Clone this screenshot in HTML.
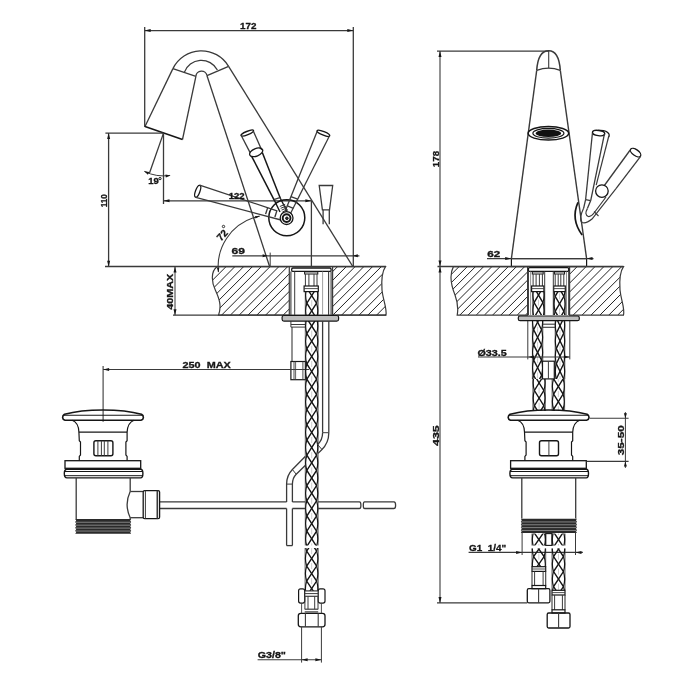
<!DOCTYPE html>
<html><head><meta charset="utf-8"><style>
html,body{margin:0;padding:0;background:#fff;width:700px;height:700px;overflow:hidden}
svg{display:block;will-change:transform}
text{font-family:"Liberation Sans",sans-serif;font-weight:bold;fill:#161616;white-space:pre}
</style></head><body>
<svg width="700" height="700" viewBox="0 0 700 700">
<rect width="700" height="700" fill="#fff"/>
<line x1="144.70" y1="27.00" x2="144.70" y2="127.00" stroke="#3a3a3a" stroke-width="1.3"/>
<line x1="353.30" y1="27.00" x2="353.30" y2="266.50" stroke="#3a3a3a" stroke-width="1.3"/>
<line x1="144.70" y1="30.60" x2="353.30" y2="30.60" stroke="#3a3a3a" stroke-width="1.3"/>
<path d="M144.70,30.60 L150.70,29.10 L150.70,32.10 Z" fill="#161616"/>
<path d="M353.30,30.60 L347.30,32.10 L347.30,29.10 Z" fill="#161616"/>
<text x="240.05" y="28.80" font-size="9.14" textLength="16.41" lengthAdjust="spacingAndGlyphs" stroke="#161616" stroke-width="0.3">172</text>
<path d="M172.9,68.6 A31.6,31.6 0 0 1 228.6,66.4" fill="none" stroke="#3a3a3a" stroke-width="1.3" />
<path d="M184.3,72.4 A18.1,18.1 0 0 1 217.4,70" fill="none" stroke="#3a3a3a" stroke-width="1.3" />
<path d="M195.9,76.4 A5.6,5.6 0 0 1 207,75.7" fill="none" stroke="#3a3a3a" stroke-width="1.3" />
<line x1="172.90" y1="68.60" x2="195.90" y2="76.40" stroke="#3a3a3a" stroke-width="1.3"/>
<line x1="207.00" y1="75.70" x2="228.60" y2="66.40" stroke="#3a3a3a" stroke-width="1.3"/>
<line x1="172.90" y1="68.60" x2="145.00" y2="126.50" stroke="#3a3a3a" stroke-width="1.3"/>
<line x1="195.90" y1="76.40" x2="182.50" y2="139.50" stroke="#3a3a3a" stroke-width="1.3"/>
<line x1="145.00" y1="126.50" x2="182.50" y2="139.50" stroke="#161616" stroke-width="1.5"/>
<line x1="207.00" y1="75.70" x2="269.60" y2="266.50" stroke="#3a3a3a" stroke-width="1.3"/>
<line x1="228.60" y1="66.40" x2="352.80" y2="266.50" stroke="#3a3a3a" stroke-width="1.3"/>
<line x1="105.40" y1="133.10" x2="163.50" y2="133.10" stroke="#3a3a3a" stroke-width="1.3"/>
<line x1="108.60" y1="133.10" x2="108.60" y2="266.70" stroke="#3a3a3a" stroke-width="1.3"/>
<path d="M108.60,133.10 L110.10,139.10 L107.10,139.10 Z" fill="#161616"/>
<path d="M108.60,266.70 L107.10,260.70 L110.10,260.70 Z" fill="#161616"/>
<text transform="translate(107.40 207.25) rotate(-90)" x="0" y="0" font-size="9.14" textLength="13.01" lengthAdjust="spacingAndGlyphs" stroke="#161616" stroke-width="0.3">110</text>
<line x1="163.50" y1="133.10" x2="163.50" y2="204.00" stroke="#3a3a3a" stroke-width="1.3"/>
<line x1="163.50" y1="133.10" x2="149.50" y2="173.00" stroke="#3a3a3a" stroke-width="1.3"/>
<path d="M144.40,171.40 A42.8,42.8 0 0 0 169.83,175.43" fill="none" stroke="#3a3a3a" stroke-width="1.0" />
<path d="M144.10,171.20 L149.29,172.01 L147.86,174.87 Z" fill="#161616"/>
<path d="M170.63,175.43 L165.85,177.61 L165.47,174.44 Z" fill="#161616"/>
<text x="148.17" y="183.50" font-size="8.86" textLength="10.57" lengthAdjust="spacingAndGlyphs" stroke="#161616" stroke-width="0.3">19</text>
<circle cx="160.0" cy="178.6" r="1.15" fill="none" stroke="#161616" stroke-width="1.0"/>
<line x1="163.50" y1="200.80" x2="311.40" y2="200.80" stroke="#3a3a3a" stroke-width="1.3"/>
<path d="M163.50,200.80 L169.50,199.30 L169.50,202.30 Z" fill="#161616"/>
<path d="M311.40,200.80 L305.40,202.30 L305.40,199.30 Z" fill="#161616"/>
<line x1="311.40" y1="200.80" x2="311.40" y2="266.50" stroke="#3a3a3a" stroke-width="1.3"/>
<path d="M218.4,272 A51.5,51.5 0 0 1 254,217.6 L259.7,216" fill="none" stroke="#3a3a3a" stroke-width="1.1" />
<path d="M218.60,272.50 L216.91,267.64 L219.30,267.41 Z" fill="#161616"/>
<path d="M260.00,216.00 L255.56,218.59 L254.87,216.29 Z" fill="#161616"/>
<circle cx="286.8" cy="217.7" r="18.0" fill="none" stroke="#161616" stroke-width="1.5"/>
<ellipse cx="247.3" cy="133.1" rx="6.7" ry="1.7" transform="rotate(-22 247.3 133.1)" fill="none" stroke="#161616" stroke-width="1.4"/>
<line x1="241.10" y1="135.30" x2="250.10" y2="152.60" stroke="#3a3a3a" stroke-width="1.3"/>
<line x1="253.40" y1="131.20" x2="261.70" y2="150.00" stroke="#3a3a3a" stroke-width="1.3"/>
<ellipse cx="256.2" cy="152.3" rx="6.9" ry="3.8" transform="rotate(-22 256.2 152.3)" fill="none" stroke="#161616" stroke-width="1.3"/>
<line x1="251.40" y1="155.80" x2="274.60" y2="200.80" stroke="#161616" stroke-width="1.5"/>
<line x1="262.30" y1="152.60" x2="280.30" y2="198.30" stroke="#161616" stroke-width="1.5"/>
<line x1="273.80" y1="199.60" x2="280.60" y2="197.40" stroke="#3a3a3a" stroke-width="1.3"/>
<line x1="274.60" y1="200.80" x2="280.00" y2="212.00" stroke="#161616" stroke-width="1.4"/>
<line x1="280.30" y1="198.30" x2="287.00" y2="211.30" stroke="#161616" stroke-width="1.4"/>
<ellipse cx="323.4" cy="133.3" rx="6.8" ry="1.8" transform="rotate(22 323.4 133.3)" fill="none" stroke="#161616" stroke-width="1.4"/>
<line x1="317.30" y1="130.90" x2="285.20" y2="211.00" stroke="#3a3a3a" stroke-width="1.3"/>
<line x1="329.50" y1="135.80" x2="290.50" y2="213.50" stroke="#3a3a3a" stroke-width="1.3"/>
<line x1="290.90" y1="196.60" x2="297.70" y2="199.10" stroke="#3a3a3a" stroke-width="1.3"/>
<line x1="287.40" y1="205.90" x2="293.40" y2="208.40" stroke="#3a3a3a" stroke-width="1.3"/>
<ellipse cx="197.7" cy="191.3" rx="2.2" ry="6.3" transform="rotate(20 197.7 191.3)" fill="none" stroke="#161616" stroke-width="1.3"/>
<line x1="199.60" y1="185.10" x2="277.00" y2="210.80" stroke="#3a3a3a" stroke-width="1.3"/>
<line x1="195.80" y1="197.40" x2="281.00" y2="220.00" stroke="#3a3a3a" stroke-width="1.3"/>
<line x1="267.70" y1="207.60" x2="265.60" y2="214.10" stroke="#3a3a3a" stroke-width="1.4"/>
<line x1="277.00" y1="210.40" x2="274.90" y2="217.00" stroke="#3a3a3a" stroke-width="1.4"/>
<circle cx="286.6" cy="218.1" r="6.4" fill="#fff" stroke="#161616" stroke-width="1.3"/>
<circle cx="286.6" cy="218.1" r="3.9" fill="none" stroke="#161616" stroke-width="1.9"/>
<circle cx="286.9" cy="218.3" r="1.3" fill="#333" stroke="#161616" stroke-width="1.0"/>
<line x1="279.80" y1="206.50" x2="285.20" y2="204.30" stroke="#333" stroke-width="1.0"/>
<line x1="280.70" y1="208.30" x2="286.10" y2="206.10" stroke="#333" stroke-width="1.0"/>
<line x1="281.60" y1="210.10" x2="287.00" y2="207.90" stroke="#333" stroke-width="1.0"/>
<line x1="282.50" y1="211.90" x2="287.90" y2="209.70" stroke="#333" stroke-width="1.0"/>
<text x="231.47" y="253.70" font-size="8.86" textLength="13.47" lengthAdjust="spacingAndGlyphs" stroke="#161616" stroke-width="0.3">69</text>
<text transform="translate(222.2 235) rotate(-47)" x="0" y="3.6" text-anchor="middle" font-size="10" textLength="11" lengthAdjust="spacingAndGlyphs" stroke="#161616" stroke-width="0.3">72</text>
<circle cx="223.5" cy="226.5" r="1.2" fill="none" stroke="#161616" stroke-width="0.9"/>
<text x="228.66" y="198.90" font-size="9.00" textLength="15.99" lengthAdjust="spacingAndGlyphs" stroke="#161616" stroke-width="0.3">122</text>
<line x1="232.30" y1="255.80" x2="359.40" y2="255.80" stroke="#3a3a3a" stroke-width="1.3"/>
<line x1="270.20" y1="252.60" x2="270.20" y2="266.50" stroke="#3a3a3a" stroke-width="1.0"/>
<path d="M267.60,255.80 L262.60,257.30 L262.60,254.30 Z" fill="#161616"/>
<path d="M352.80,255.80 L357.80,254.30 L357.80,257.30 Z" fill="#161616"/>
<path d="M319.2,185.5 L332.7,185.5 L329.5,209.8 L322.4,209.8 Z" fill="none" stroke="#3a3a3a" stroke-width="1.3" />
<line x1="323.10" y1="209.80" x2="323.10" y2="224.30" stroke="#3a3a3a" stroke-width="1.3"/>
<line x1="329.30" y1="209.80" x2="329.30" y2="224.30" stroke="#3a3a3a" stroke-width="1.3"/>
<line x1="105.00" y1="266.60" x2="386.00" y2="266.60" stroke="#3a3a3a" stroke-width="1.5"/>
<line x1="173.00" y1="315.20" x2="386.00" y2="315.20" stroke="#3a3a3a" stroke-width="1.3"/>
<clipPath id="h1"><path d="M217.2,266.6 C210,272 212,283 215.3,290 C219,298 222,306 218.5,315.2 L289.3,315.2 L289.3,266.6 Z"/></clipPath>
<g clip-path="url(#h1)"><line x1="159.90" y1="315.20" x2="208.50" y2="266.60" stroke="#161616" stroke-width="0.95"/><line x1="168.70" y1="315.20" x2="217.30" y2="266.60" stroke="#161616" stroke-width="0.95"/><line x1="177.50" y1="315.20" x2="226.10" y2="266.60" stroke="#161616" stroke-width="0.95"/><line x1="186.30" y1="315.20" x2="234.90" y2="266.60" stroke="#161616" stroke-width="0.95"/><line x1="195.10" y1="315.20" x2="243.70" y2="266.60" stroke="#161616" stroke-width="0.95"/><line x1="203.90" y1="315.20" x2="252.50" y2="266.60" stroke="#161616" stroke-width="0.95"/><line x1="212.70" y1="315.20" x2="261.30" y2="266.60" stroke="#161616" stroke-width="0.95"/><line x1="221.50" y1="315.20" x2="270.10" y2="266.60" stroke="#161616" stroke-width="0.95"/><line x1="230.30" y1="315.20" x2="278.90" y2="266.60" stroke="#161616" stroke-width="0.95"/><line x1="239.10" y1="315.20" x2="287.70" y2="266.60" stroke="#161616" stroke-width="0.95"/><line x1="247.90" y1="315.20" x2="296.50" y2="266.60" stroke="#161616" stroke-width="0.95"/><line x1="256.70" y1="315.20" x2="305.30" y2="266.60" stroke="#161616" stroke-width="0.95"/><line x1="265.50" y1="315.20" x2="314.10" y2="266.60" stroke="#161616" stroke-width="0.95"/><line x1="274.30" y1="315.20" x2="322.90" y2="266.60" stroke="#161616" stroke-width="0.95"/><line x1="283.10" y1="315.20" x2="331.70" y2="266.60" stroke="#161616" stroke-width="0.95"/><line x1="291.90" y1="315.20" x2="340.50" y2="266.60" stroke="#161616" stroke-width="0.95"/></g>
<path d="M217.2,266.6 C210,272 212,283 215.3,290 C219,298 222,306 218.5,315.2 L289.3,315.2 L289.3,266.6 Z" fill="none" stroke="#3a3a3a" stroke-width="1.2" />
<clipPath id="h2"><path d="M332.6,266.6 L385.5,266.6 C381,273 381.5,283 382,290 C383,300 387,308 386,315.2 L332.6,315.2 Z"/></clipPath>
<g clip-path="url(#h2)"><line x1="280.25" y1="315.20" x2="328.85" y2="266.60" stroke="#161616" stroke-width="0.95"/><line x1="289.00" y1="315.20" x2="337.60" y2="266.60" stroke="#161616" stroke-width="0.95"/><line x1="297.75" y1="315.20" x2="346.35" y2="266.60" stroke="#161616" stroke-width="0.95"/><line x1="306.50" y1="315.20" x2="355.10" y2="266.60" stroke="#161616" stroke-width="0.95"/><line x1="315.25" y1="315.20" x2="363.85" y2="266.60" stroke="#161616" stroke-width="0.95"/><line x1="324.00" y1="315.20" x2="372.60" y2="266.60" stroke="#161616" stroke-width="0.95"/><line x1="332.75" y1="315.20" x2="381.35" y2="266.60" stroke="#161616" stroke-width="0.95"/><line x1="341.50" y1="315.20" x2="390.10" y2="266.60" stroke="#161616" stroke-width="0.95"/><line x1="350.25" y1="315.20" x2="398.85" y2="266.60" stroke="#161616" stroke-width="0.95"/><line x1="359.00" y1="315.20" x2="407.60" y2="266.60" stroke="#161616" stroke-width="0.95"/><line x1="367.75" y1="315.20" x2="416.35" y2="266.60" stroke="#161616" stroke-width="0.95"/><line x1="376.50" y1="315.20" x2="425.10" y2="266.60" stroke="#161616" stroke-width="0.95"/><line x1="385.25" y1="315.20" x2="433.85" y2="266.60" stroke="#161616" stroke-width="0.95"/></g>
<path d="M332.6,266.6 L385.5,266.6 C381,273 381.5,283 382,290 C383,300 387,308 386,315.2 L332.6,315.2 Z" fill="none" stroke="#3a3a3a" stroke-width="1.2" />
<line x1="175.00" y1="266.60" x2="175.00" y2="315.20" stroke="#3a3a3a" stroke-width="1.0"/>
<path d="M175.00,266.60 L176.50,272.60 L173.50,272.60 Z" fill="#161616"/>
<path d="M175.00,315.20 L173.50,309.20 L176.50,309.20 Z" fill="#161616"/>
<text transform="translate(173.30 309.84) rotate(-90)" x="0" y="0" font-size="9.00" textLength="35.99" lengthAdjust="spacingAndGlyphs" stroke="#161616" stroke-width="0.3">40MAX</text>
<rect x="291.7" y="268" width="39.4" height="3.4" rx="1.2" fill="#fff" stroke="#161616" stroke-width="1.3"/>
<line x1="290.90" y1="271.40" x2="290.90" y2="315.50" stroke="#3a3a3a" stroke-width="1.1"/>
<line x1="331.10" y1="271.40" x2="331.10" y2="315.50" stroke="#3a3a3a" stroke-width="1.1"/>
<line x1="294.70" y1="271.40" x2="294.70" y2="315.50" stroke="#3a3a3a" stroke-width="1.0"/>
<line x1="322.60" y1="271.40" x2="322.60" y2="315.50" stroke="#888" stroke-width="0.8"/>
<line x1="328.60" y1="271.40" x2="328.60" y2="315.50" stroke="#3a3a3a" stroke-width="1.1"/>
<rect x="304.60" y="271.90" width="13.20" height="2.10" rx="0" fill="none" stroke="#161616" stroke-width="1.0"/>
<line x1="305.40" y1="274.00" x2="305.40" y2="286.00" stroke="#3a3a3a" stroke-width="1.0"/>
<line x1="308.90" y1="274.00" x2="308.90" y2="286.00" stroke="#3a3a3a" stroke-width="1.0"/>
<line x1="314.00" y1="274.00" x2="314.00" y2="286.00" stroke="#3a3a3a" stroke-width="1.0"/>
<line x1="317.00" y1="274.00" x2="317.00" y2="286.00" stroke="#3a3a3a" stroke-width="1.0"/>
<rect x="304.10" y="286.00" width="14.20" height="5.60" rx="0" fill="none" stroke="#161616" stroke-width="1.2"/>
<line x1="304.10" y1="288.60" x2="318.30" y2="288.60" stroke="#3a3a3a" stroke-width="0.9"/>
<line x1="290.90" y1="321.40" x2="290.90" y2="327.10" stroke="#3a3a3a" stroke-width="1.0"/>
<line x1="290.90" y1="324.50" x2="305.00" y2="324.50" stroke="#3a3a3a" stroke-width="1.0"/>
<line x1="290.90" y1="327.10" x2="305.00" y2="327.10" stroke="#3a3a3a" stroke-width="1.0"/>
<line x1="292.00" y1="327.10" x2="292.00" y2="361.50" stroke="#3a3a3a" stroke-width="1.1"/>
<rect x="290.90" y="361.50" width="14.60" height="18.20" rx="0" fill="none" stroke="#161616" stroke-width="1.2"/>
<line x1="294.00" y1="361.50" x2="294.00" y2="379.70" stroke="#3a3a3a" stroke-width="0.9"/>
<line x1="295.60" y1="361.50" x2="295.60" y2="379.70" stroke="#3a3a3a" stroke-width="0.8"/>
<line x1="302.90" y1="361.50" x2="302.90" y2="379.70" stroke="#3a3a3a" stroke-width="0.9"/>
<line x1="103.10" y1="366.00" x2="103.10" y2="421.80" stroke="#3a3a3a" stroke-width="1.1"/>
<line x1="103.10" y1="369.50" x2="309.00" y2="369.50" stroke="#3a3a3a" stroke-width="1.1"/>
<path d="M103.10,369.50 L109.10,368.00 L109.10,371.00 Z" fill="#161616"/>
<text x="182.56" y="367.50" font-size="9.00" textLength="48.19" lengthAdjust="spacingAndGlyphs" stroke="#161616" stroke-width="0.3">250  MAX</text>
<clipPath id="bc110"><rect x="302.3" y="291.4" width="18.80000000000001" height="254.20000000000005"/></clipPath>
<g clip-path="url(#bc110)"><path d="M305.30,290.40 L305.30,546.60 M318.10,290.40 L318.10,546.60" fill="none" stroke="#3a3a3a" stroke-width="0.8"/><path d="M306.84,288.00 Q304.40,295.60 306.84,303.20 M316.56,288.00 Q319.00,295.60 316.56,303.20 M306.84,303.20 Q304.40,310.80 306.84,318.40 M316.56,303.20 Q319.00,310.80 316.56,318.40 M306.84,318.40 Q304.40,326.00 306.84,333.60 M316.56,318.40 Q319.00,326.00 316.56,333.60 M306.84,333.60 Q304.40,341.20 306.84,348.80 M316.56,333.60 Q319.00,341.20 316.56,348.80 M306.84,348.80 Q304.40,356.40 306.84,364.00 M316.56,348.80 Q319.00,356.40 316.56,364.00 M306.84,364.00 Q304.40,371.60 306.84,379.20 M316.56,364.00 Q319.00,371.60 316.56,379.20 M306.84,379.20 Q304.40,386.80 306.84,394.40 M316.56,379.20 Q319.00,386.80 316.56,394.40 M306.84,394.40 Q304.40,402.00 306.84,409.60 M316.56,394.40 Q319.00,402.00 316.56,409.60 M306.84,409.60 Q304.40,417.20 306.84,424.80 M316.56,409.60 Q319.00,417.20 316.56,424.80 M306.84,424.80 Q304.40,432.40 306.84,440.00 M316.56,424.80 Q319.00,432.40 316.56,440.00 M306.84,440.00 Q304.40,447.60 306.84,455.20 M316.56,440.00 Q319.00,447.60 316.56,455.20 M306.84,455.20 Q304.40,462.80 306.84,470.40 M316.56,455.20 Q319.00,462.80 316.56,470.40 M306.84,470.40 Q304.40,478.00 306.84,485.60 M316.56,470.40 Q319.00,478.00 316.56,485.60 M306.84,485.60 Q304.40,493.20 306.84,500.80 M316.56,485.60 Q319.00,493.20 316.56,500.80 M306.84,500.80 Q304.40,508.40 306.84,516.00 M316.56,500.80 Q319.00,508.40 316.56,516.00 M306.84,516.00 Q304.40,523.60 306.84,531.20 M316.56,516.00 Q319.00,523.60 316.56,531.20 M306.84,531.20 Q304.40,538.80 306.84,546.40 M316.56,531.20 Q319.00,538.80 316.56,546.40" fill="none" stroke="#161616" stroke-width="1.2"/><polyline points="306.84,288.00 316.56,303.20 306.84,318.40 316.56,333.60 306.84,348.80 316.56,364.00 306.84,379.20 316.56,394.40 306.84,409.60 316.56,424.80 306.84,440.00 316.56,455.20 306.84,470.40 316.56,485.60 306.84,500.80 316.56,516.00 306.84,531.20 316.56,546.40" fill="none" stroke="#161616" stroke-width="1.4"/><polyline points="316.56,288.00 306.84,303.20 316.56,318.40 306.84,333.60 316.56,348.80 306.84,364.00 316.56,379.20 306.84,394.40 316.56,409.60 306.84,424.80 316.56,440.00 306.84,455.20 316.56,470.40 306.84,485.60 316.56,500.80 306.84,516.00 316.56,531.20 306.84,546.40" fill="none" stroke="#161616" stroke-width="1.4"/><line x1="311.70" y1="285.00" x2="311.70" y2="291.00" stroke="#aaa" stroke-width="0.6"/><line x1="311.70" y1="300.20" x2="311.70" y2="306.20" stroke="#aaa" stroke-width="0.6"/><line x1="311.70" y1="315.40" x2="311.70" y2="321.40" stroke="#aaa" stroke-width="0.6"/><line x1="311.70" y1="330.60" x2="311.70" y2="336.60" stroke="#aaa" stroke-width="0.6"/><line x1="311.70" y1="345.80" x2="311.70" y2="351.80" stroke="#aaa" stroke-width="0.6"/><line x1="311.70" y1="361.00" x2="311.70" y2="367.00" stroke="#aaa" stroke-width="0.6"/><line x1="311.70" y1="376.20" x2="311.70" y2="382.20" stroke="#aaa" stroke-width="0.6"/><line x1="311.70" y1="391.40" x2="311.70" y2="397.40" stroke="#aaa" stroke-width="0.6"/><line x1="311.70" y1="406.60" x2="311.70" y2="412.60" stroke="#aaa" stroke-width="0.6"/><line x1="311.70" y1="421.80" x2="311.70" y2="427.80" stroke="#aaa" stroke-width="0.6"/><line x1="311.70" y1="437.00" x2="311.70" y2="443.00" stroke="#aaa" stroke-width="0.6"/><line x1="311.70" y1="452.20" x2="311.70" y2="458.20" stroke="#aaa" stroke-width="0.6"/><line x1="311.70" y1="467.40" x2="311.70" y2="473.40" stroke="#aaa" stroke-width="0.6"/><line x1="311.70" y1="482.60" x2="311.70" y2="488.60" stroke="#aaa" stroke-width="0.6"/><line x1="311.70" y1="497.80" x2="311.70" y2="503.80" stroke="#aaa" stroke-width="0.6"/><line x1="311.70" y1="513.00" x2="311.70" y2="519.00" stroke="#aaa" stroke-width="0.6"/><line x1="311.70" y1="528.20" x2="311.70" y2="534.20" stroke="#aaa" stroke-width="0.6"/><line x1="311.70" y1="543.40" x2="311.70" y2="549.40" stroke="#aaa" stroke-width="0.6"/></g>
<rect x="282.1" y="315.5" width="56.5" height="5.6" rx="1.8" fill="#bdbdbd" stroke="#161616" stroke-width="1.2"/>
<line x1="322.60" y1="321.00" x2="322.60" y2="432.70" stroke="#3a3a3a" stroke-width="1.3"/>
<line x1="328.80" y1="321.00" x2="328.80" y2="432.70" stroke="#3a3a3a" stroke-width="1.3"/>
<line x1="322.60" y1="432.70" x2="328.80" y2="432.70" stroke="#3a3a3a" stroke-width="1.0"/>
<path d="M328.8,432.7 Q328.8,443 321.5,450 L318.1,453.4" fill="none" stroke="#3a3a3a" stroke-width="1.3" />
<path d="M322.6,432.7 Q322.6,440 317.5,444.5 L318.1,444" fill="none" stroke="#3a3a3a" stroke-width="1.3" />
<line x1="317.40" y1="444.30" x2="321.90" y2="449.40" stroke="#3a3a3a" stroke-width="1.0"/>
<path d="M305.2,456.5 L292.4,469.5 Q286.6,475.5 286.6,484.1 L286.6,501.9" fill="none" stroke="#3a3a3a" stroke-width="1.3" />
<path d="M305.2,465.5 L296.2,474.2 Q292.4,478 292.4,484.1 L292.4,501.9" fill="none" stroke="#3a3a3a" stroke-width="1.3" />
<line x1="292.40" y1="469.50" x2="296.20" y2="474.20" stroke="#3a3a3a" stroke-width="1.0"/>
<line x1="286.60" y1="484.10" x2="292.40" y2="484.10" stroke="#3a3a3a" stroke-width="1.0"/>
<line x1="286.60" y1="508.50" x2="286.60" y2="545.60" stroke="#3a3a3a" stroke-width="1.3"/>
<line x1="292.40" y1="508.50" x2="292.40" y2="545.60" stroke="#3a3a3a" stroke-width="1.3"/>
<line x1="286.60" y1="545.60" x2="292.40" y2="545.60" stroke="#3a3a3a" stroke-width="1.3"/>
<path d="M159.3,501.9 L286.6,501.9 M292.4,501.9 L305.3,501.9 M318.1,501.9 L359.5,501.9 Q360.9,501.9 360.9,505.2 Q360.9,508.5 359.5,508.5 L318.1,508.5 M305.3,508.5 L292.4,508.5 M286.6,508.5 L159.3,508.5" fill="none" stroke="#3a3a3a" stroke-width="1.3" />
<path d="M364.5,501.9 L394,501.9 Q395.6,501.9 395.6,505.2 Q395.6,508.5 394,508.5 L364.5,508.5 Q363.3,508.5 363.3,505.2 Q363.3,501.9 364.5,501.9 Z" fill="none" stroke="#3a3a3a" stroke-width="1.3" />
<clipPath id="bc128"><rect x="302.1" y="548.1" width="19.099999999999966" height="42.799999999999955"/></clipPath>
<g clip-path="url(#bc128)"><path d="M305.10,547.10 L305.10,591.90 M318.20,547.10 L318.20,591.90" fill="none" stroke="#3a3a3a" stroke-width="0.8"/><path d="M306.67,536.10 Q304.20,543.60 306.67,551.10 M316.63,536.10 Q319.10,543.60 316.63,551.10 M306.67,551.10 Q304.20,558.60 306.67,566.10 M316.63,551.10 Q319.10,558.60 316.63,566.10 M306.67,566.10 Q304.20,573.60 306.67,581.10 M316.63,566.10 Q319.10,573.60 316.63,581.10 M306.67,581.10 Q304.20,588.60 306.67,596.10 M316.63,581.10 Q319.10,588.60 316.63,596.10" fill="none" stroke="#161616" stroke-width="1.2"/><polyline points="306.67,536.10 316.63,551.10 306.67,566.10 316.63,581.10 306.67,596.10" fill="none" stroke="#161616" stroke-width="1.4"/><polyline points="316.63,536.10 306.67,551.10 316.63,566.10 306.67,581.10 316.63,596.10" fill="none" stroke="#161616" stroke-width="1.4"/><line x1="311.65" y1="533.10" x2="311.65" y2="539.10" stroke="#aaa" stroke-width="0.6"/><line x1="311.65" y1="548.10" x2="311.65" y2="554.10" stroke="#aaa" stroke-width="0.6"/><line x1="311.65" y1="563.10" x2="311.65" y2="569.10" stroke="#aaa" stroke-width="0.6"/><line x1="311.65" y1="578.10" x2="311.65" y2="584.10" stroke="#aaa" stroke-width="0.6"/><line x1="311.65" y1="593.10" x2="311.65" y2="599.10" stroke="#aaa" stroke-width="0.6"/></g>
<rect x="298.60" y="588.80" width="6.10" height="14.30" rx="2" fill="none" stroke="#161616" stroke-width="1.2"/>
<rect x="318.20" y="588.80" width="6.80" height="14.30" rx="2" fill="none" stroke="#161616" stroke-width="1.2"/>
<line x1="304.70" y1="590.90" x2="318.20" y2="590.90" stroke="#3a3a3a" stroke-width="1.2"/>
<line x1="304.70" y1="593.60" x2="318.20" y2="593.60" stroke="#3a3a3a" stroke-width="1.0"/>
<line x1="304.70" y1="596.30" x2="318.20" y2="596.30" stroke="#3a3a3a" stroke-width="1.2"/>
<line x1="304.90" y1="596.30" x2="304.90" y2="609.20" stroke="#3a3a3a" stroke-width="1.0"/>
<line x1="308.00" y1="596.30" x2="308.00" y2="609.20" stroke="#3a3a3a" stroke-width="1.0"/>
<line x1="314.70" y1="596.30" x2="314.70" y2="609.20" stroke="#3a3a3a" stroke-width="1.0"/>
<line x1="318.00" y1="596.30" x2="318.00" y2="609.20" stroke="#3a3a3a" stroke-width="1.0"/>
<line x1="304.70" y1="609.20" x2="318.20" y2="609.20" stroke="#3a3a3a" stroke-width="1.2"/>
<line x1="304.70" y1="611.90" x2="318.20" y2="611.90" stroke="#3a3a3a" stroke-width="1.2"/>
<rect x="298.30" y="613.30" width="26.70" height="13.50" rx="2.5" fill="none" stroke="#161616" stroke-width="1.3"/>
<line x1="305.40" y1="613.30" x2="305.40" y2="626.80" stroke="#3a3a3a" stroke-width="1.1"/>
<line x1="318.20" y1="613.30" x2="318.20" y2="626.80" stroke="#3a3a3a" stroke-width="1.1"/>
<line x1="301.60" y1="603.10" x2="301.60" y2="613.30" stroke="#3a3a3a" stroke-width="0.9"/>
<line x1="321.40" y1="603.10" x2="321.40" y2="613.30" stroke="#3a3a3a" stroke-width="0.9"/>
<line x1="301.60" y1="626.80" x2="301.60" y2="662.60" stroke="#3a3a3a" stroke-width="1.0"/>
<line x1="321.40" y1="626.80" x2="321.40" y2="662.60" stroke="#3a3a3a" stroke-width="1.0"/>
<line x1="257.60" y1="659.80" x2="321.40" y2="659.80" stroke="#3a3a3a" stroke-width="1.1"/>
<path d="M301.60,659.80 L307.60,658.30 L307.60,661.30 Z" fill="#161616"/>
<path d="M321.40,659.80 L315.40,661.30 L315.40,658.30 Z" fill="#161616"/>
<text x="257.66" y="658.10" font-size="9.00" textLength="28.29" lengthAdjust="spacingAndGlyphs" stroke="#161616" stroke-width="0.3">G3/8"</text>
<path d="M65,420.2 C62,419.5 61.8,416 64.5,414.3 Q80,410 103,410 Q126,410 141.5,414.3 C144.2,416 144,419.5 141,420.2 Z" fill="none" stroke="#161616" stroke-width="1.6" />
<line x1="63.00" y1="415.30" x2="143.30" y2="415.30" stroke="#161616" stroke-width="1.1"/>
<path d="M72.1,420.2 Q78.6,422.5 78.9,432.1 L79.3,440.7 L80.5,442 L80.5,455 L79.3,456.4 L79.3,460.7" fill="none" stroke="#161616" stroke-width="1.2" />
<path d="M134.1,420.2 Q127.6,422.5 127.1,432.1 L127.1,440.7 L125.9,442 L125.9,455 L127.1,456.4 L127.1,460.7" fill="none" stroke="#161616" stroke-width="1.2" />
<line x1="78.90" y1="432.10" x2="127.10" y2="432.10" stroke="#161616" stroke-width="1.2"/>
<rect x="93.90" y="440.70" width="19.00" height="15.00" rx="2" fill="none" stroke="#161616" stroke-width="1.4"/>
<rect x="65.00" y="460.70" width="75.70" height="7.60" rx="0" fill="none" stroke="#161616" stroke-width="1.3"/>
<path d="M67,469.3 L140.6,469.3 Q142.9,469.3 142.9,473.6 Q142.9,477.9 140.6,477.9 L67,477.9 Q64.3,477.9 64.3,473.6 Q64.3,469.3 67,469.3 Z" fill="none" stroke="#161616" stroke-width="1.4" />
<line x1="64.50" y1="471.50" x2="142.70" y2="471.50" stroke="#161616" stroke-width="1.0"/>
<line x1="64.50" y1="475.70" x2="142.70" y2="475.70" stroke="#161616" stroke-width="1.0"/>
<line x1="97.90" y1="440.70" x2="97.90" y2="455.70" stroke="#3a3a3a" stroke-width="1.0"/>
<line x1="101.40" y1="440.70" x2="101.40" y2="455.70" stroke="#3a3a3a" stroke-width="1.0"/>
<line x1="104.30" y1="440.70" x2="104.30" y2="455.70" stroke="#3a3a3a" stroke-width="1.0"/>
<line x1="107.90" y1="440.70" x2="107.90" y2="455.70" stroke="#3a3a3a" stroke-width="1.0"/>
<line x1="76.20" y1="477.90" x2="76.20" y2="519.30" stroke="#3a3a3a" stroke-width="1.3"/>
<line x1="130.20" y1="477.90" x2="130.20" y2="491.50" stroke="#3a3a3a" stroke-width="1.3"/>
<line x1="130.20" y1="517.70" x2="130.20" y2="519.30" stroke="#3a3a3a" stroke-width="1.3"/>
<polygon points="75.20,519.00 76.20,520.47 75.20,521.94 76.20,523.41 75.20,524.88 76.20,526.35 75.20,527.82 76.20,529.29 75.20,530.76 76.20,532.23 75.20,533.70 131.20,533.70 130.20,532.23 131.20,530.76 130.20,529.29 131.20,527.82 130.20,526.35 131.20,524.88 130.20,523.41 131.20,521.94 130.20,520.47 131.20,519.00" fill="#2a2a2a"/>
<line x1="75.80" y1="522.24" x2="130.60" y2="522.24" stroke="#9a9a9a" stroke-width="0.8"/>
<line x1="75.80" y1="525.18" x2="130.60" y2="525.18" stroke="#9a9a9a" stroke-width="0.8"/>
<line x1="75.80" y1="528.12" x2="130.60" y2="528.12" stroke="#9a9a9a" stroke-width="0.8"/>
<line x1="75.80" y1="531.06" x2="130.60" y2="531.06" stroke="#9a9a9a" stroke-width="0.8"/>
<path d="M130.2,491.5 Q124,504.6 130.2,517.7" fill="none" stroke="#3a3a3a" stroke-width="1.3" />
<line x1="130.20" y1="491.50" x2="143.20" y2="491.50" stroke="#3a3a3a" stroke-width="1.3"/>
<line x1="130.20" y1="517.70" x2="143.20" y2="517.70" stroke="#3a3a3a" stroke-width="1.3"/>
<rect x="143.20" y="490.60" width="16.40" height="28.10" rx="1.5" fill="none" stroke="#161616" stroke-width="1.3"/>
<line x1="145.40" y1="490.60" x2="145.40" y2="518.70" stroke="#3a3a3a" stroke-width="1.0"/>
<line x1="157.30" y1="490.60" x2="157.30" y2="518.70" stroke="#3a3a3a" stroke-width="1.6"/>
<line x1="437.00" y1="51.10" x2="548.60" y2="51.10" stroke="#3a3a3a" stroke-width="1.2"/>
<line x1="440.00" y1="51.10" x2="440.00" y2="602.90" stroke="#3a3a3a" stroke-width="1.1"/>
<path d="M440.00,51.10 L441.50,57.10 L438.50,57.10 Z" fill="#161616"/>
<path d="M440.00,266.60 L438.50,260.60 L441.50,260.60 Z" fill="#161616"/>
<path d="M440.00,266.60 L441.50,272.60 L438.50,272.60 Z" fill="#161616"/>
<path d="M440.00,602.90 L438.50,596.90 L441.50,596.90 Z" fill="#161616"/>
<text transform="translate(438.60 167.15) rotate(-90)" x="0" y="0" font-size="9.14" textLength="16.21" lengthAdjust="spacingAndGlyphs" stroke="#161616" stroke-width="0.3">178</text>
<text transform="translate(438.60 445.95) rotate(-90)" x="0" y="0" font-size="9.14" textLength="20.71" lengthAdjust="spacingAndGlyphs" stroke="#161616" stroke-width="0.3">435</text>
<line x1="437.00" y1="602.90" x2="527.30" y2="602.90" stroke="#3a3a3a" stroke-width="1.1"/>
<path d="M536.7,70.4 Q538,50.7 548.7,50.7 Q559,50.7 560.3,70.4" fill="none" stroke="#3a3a3a" stroke-width="1.5" />
<path d="M536.7,70.4 Q548.7,66 560.3,70.4" fill="none" stroke="#3a3a3a" stroke-width="1.3" />
<line x1="548.70" y1="50.70" x2="548.70" y2="68.30" stroke="#3a3a3a" stroke-width="1.1"/>
<line x1="536.70" y1="70.40" x2="511.40" y2="258.60" stroke="#3a3a3a" stroke-width="1.4"/>
<line x1="560.30" y1="70.40" x2="586.60" y2="258.60" stroke="#3a3a3a" stroke-width="1.4"/>
<ellipse cx="548.4" cy="133.3" rx="20.3" ry="6.8" transform="rotate(0 548.4 133.3)" fill="none" stroke="#161616" stroke-width="1.5"/>
<ellipse cx="548.4" cy="133.3" rx="15.5" ry="4.9" transform="rotate(0 548.4 133.3)" fill="none" stroke="#161616" stroke-width="1.2"/>
<ellipse cx="548.4" cy="133.3" rx="12.8" ry="3.7" fill="#111"/>
<rect x="511.40" y="258.60" width="75.20" height="7.90" rx="0" fill="none" stroke="#161616" stroke-width="1.2"/>
<line x1="487.00" y1="258.60" x2="593.50" y2="258.60" stroke="#3a3a3a" stroke-width="1.1"/>
<path d="M511.20,258.60 L505.20,260.10 L505.20,257.10 Z" fill="#161616"/>
<path d="M586.50,258.60 L592.50,257.10 L592.50,260.10 Z" fill="#161616"/>
<text x="487.36" y="256.60" font-size="9.00" textLength="12.99" lengthAdjust="spacingAndGlyphs" stroke="#161616" stroke-width="0.3">62</text>
<ellipse cx="598.6" cy="133.1" rx="6.2" ry="2.6" transform="rotate(8 598.6 133.1)" fill="none" stroke="#161616" stroke-width="1.4"/>
<path d="M598,130.4 Q606.5,129.6 609,134 Q609.4,135.5 608.8,137" fill="none" stroke="#161616" stroke-width="1.3" />
<line x1="592.40" y1="133.20" x2="585.60" y2="199.70" stroke="#3a3a3a" stroke-width="1.3"/>
<line x1="604.40" y1="134.20" x2="590.70" y2="200.60" stroke="#3a3a3a" stroke-width="1.3"/>
<line x1="608.80" y1="136.00" x2="596.20" y2="185.10" stroke="#3a3a3a" stroke-width="1.2"/>
<line x1="585.60" y1="199.70" x2="590.70" y2="200.60" stroke="#3a3a3a" stroke-width="1.2"/>
<ellipse cx="635.6" cy="152.6" rx="6.0" ry="3.0" transform="rotate(35 635.6 152.6)" fill="none" stroke="#161616" stroke-width="1.3"/>
<line x1="630.20" y1="150.00" x2="604.00" y2="186.00" stroke="#3a3a3a" stroke-width="1.3"/>
<line x1="640.60" y1="156.40" x2="616.00" y2="188.60" stroke="#3a3a3a" stroke-width="1.3"/>
<circle cx="601.9" cy="191.1" r="6.3" fill="#fff" stroke="#161616" stroke-width="1.3"/>
<path d="M578,202.3 Q570.5,219 582.1,234.9" fill="none" stroke="#161616" stroke-width="1.7" />
<path d="M583.6,208.3 Q578.5,219 582,222.5 Q586,224 592,219 L616,188.6" fill="none" stroke="#3a3a3a" stroke-width="1.2" />
<path d="M587.4,208.6 Q584,214.5 588.3,216.5 Q591,217 594,213 L606,197" fill="none" stroke="#3a3a3a" stroke-width="1.2" />
<line x1="594.00" y1="211.50" x2="598.50" y2="216.00" stroke="#3a3a3a" stroke-width="1.1"/>
<line x1="585.60" y1="199.70" x2="583.60" y2="208.30" stroke="#3a3a3a" stroke-width="1.3"/>
<line x1="590.70" y1="200.60" x2="587.40" y2="208.60" stroke="#3a3a3a" stroke-width="1.3"/>
<clipPath id="h3"><path d="M453.4,266.6 L527.6,266.6 L527.6,315.1 L457.2,315.1 C458.5,308 458,303 455,295 C451,285 449,275 453.4,266.6 Z"/></clipPath>
<g clip-path="url(#h3)"><line x1="402.40" y1="315.10" x2="450.90" y2="266.60" stroke="#161616" stroke-width="0.95"/><line x1="410.60" y1="315.10" x2="459.10" y2="266.60" stroke="#161616" stroke-width="0.95"/><line x1="418.80" y1="315.10" x2="467.30" y2="266.60" stroke="#161616" stroke-width="0.95"/><line x1="427.00" y1="315.10" x2="475.50" y2="266.60" stroke="#161616" stroke-width="0.95"/><line x1="435.20" y1="315.10" x2="483.70" y2="266.60" stroke="#161616" stroke-width="0.95"/><line x1="443.40" y1="315.10" x2="491.90" y2="266.60" stroke="#161616" stroke-width="0.95"/><line x1="451.60" y1="315.10" x2="500.10" y2="266.60" stroke="#161616" stroke-width="0.95"/><line x1="459.80" y1="315.10" x2="508.30" y2="266.60" stroke="#161616" stroke-width="0.95"/><line x1="468.00" y1="315.10" x2="516.50" y2="266.60" stroke="#161616" stroke-width="0.95"/><line x1="476.20" y1="315.10" x2="524.70" y2="266.60" stroke="#161616" stroke-width="0.95"/><line x1="484.40" y1="315.10" x2="532.90" y2="266.60" stroke="#161616" stroke-width="0.95"/><line x1="492.60" y1="315.10" x2="541.10" y2="266.60" stroke="#161616" stroke-width="0.95"/><line x1="500.80" y1="315.10" x2="549.30" y2="266.60" stroke="#161616" stroke-width="0.95"/><line x1="509.00" y1="315.10" x2="557.50" y2="266.60" stroke="#161616" stroke-width="0.95"/><line x1="517.20" y1="315.10" x2="565.70" y2="266.60" stroke="#161616" stroke-width="0.95"/><line x1="525.40" y1="315.10" x2="573.90" y2="266.60" stroke="#161616" stroke-width="0.95"/></g>
<path d="M453.4,266.6 L527.6,266.6 L527.6,315.1 L457.2,315.1 C458.5,308 458,303 455,295 C451,285 449,275 453.4,266.6 Z" fill="none" stroke="#3a3a3a" stroke-width="1.2" />
<clipPath id="h4"><path d="M569.6,266.6 L623.5,266.6 C619,273 619.5,283 620,290 C621,300 625,308 623.5,315.1 L569.6,315.1 Z"/></clipPath>
<g clip-path="url(#h4)"><line x1="519.80" y1="315.10" x2="568.30" y2="266.60" stroke="#161616" stroke-width="0.95"/><line x1="528.70" y1="315.10" x2="577.20" y2="266.60" stroke="#161616" stroke-width="0.95"/><line x1="537.60" y1="315.10" x2="586.10" y2="266.60" stroke="#161616" stroke-width="0.95"/><line x1="546.50" y1="315.10" x2="595.00" y2="266.60" stroke="#161616" stroke-width="0.95"/><line x1="555.40" y1="315.10" x2="603.90" y2="266.60" stroke="#161616" stroke-width="0.95"/><line x1="564.30" y1="315.10" x2="612.80" y2="266.60" stroke="#161616" stroke-width="0.95"/><line x1="573.20" y1="315.10" x2="621.70" y2="266.60" stroke="#161616" stroke-width="0.95"/><line x1="582.10" y1="315.10" x2="630.60" y2="266.60" stroke="#161616" stroke-width="0.95"/><line x1="591.00" y1="315.10" x2="639.50" y2="266.60" stroke="#161616" stroke-width="0.95"/><line x1="599.90" y1="315.10" x2="648.40" y2="266.60" stroke="#161616" stroke-width="0.95"/><line x1="608.80" y1="315.10" x2="657.30" y2="266.60" stroke="#161616" stroke-width="0.95"/><line x1="617.70" y1="315.10" x2="666.20" y2="266.60" stroke="#161616" stroke-width="0.95"/><line x1="626.60" y1="315.10" x2="675.10" y2="266.60" stroke="#161616" stroke-width="0.95"/></g>
<path d="M569.6,266.6 L623.5,266.6 C619,273 619.5,283 620,290 C621,300 625,308 623.5,315.1 L569.6,315.1 Z" fill="none" stroke="#3a3a3a" stroke-width="1.2" />
<line x1="437.50" y1="266.60" x2="623.50" y2="266.60" stroke="#3a3a3a" stroke-width="1.5"/>
<rect x="528.4" y="267.6" width="40.3" height="3.8" rx="1.2" fill="#fff" stroke="#161616" stroke-width="1.3"/>
<line x1="528.40" y1="271.40" x2="528.40" y2="315.10" stroke="#3a3a3a" stroke-width="1.1"/>
<line x1="568.70" y1="271.40" x2="568.70" y2="315.10" stroke="#3a3a3a" stroke-width="1.1"/>
<line x1="530.60" y1="271.40" x2="530.60" y2="315.10" stroke="#777" stroke-width="0.8"/>
<line x1="566.50" y1="271.40" x2="566.50" y2="315.10" stroke="#777" stroke-width="0.8"/>
<rect x="532.30" y="271.90" width="10.90" height="2.10" rx="0" fill="none" stroke="#161616" stroke-width="1.0"/>
<line x1="533.10" y1="274.00" x2="533.10" y2="286.00" stroke="#3a3a3a" stroke-width="1.0"/>
<line x1="536.10" y1="274.00" x2="536.10" y2="286.00" stroke="#3a3a3a" stroke-width="1.0"/>
<line x1="539.40" y1="274.00" x2="539.40" y2="286.00" stroke="#3a3a3a" stroke-width="1.0"/>
<line x1="542.40" y1="274.00" x2="542.40" y2="286.00" stroke="#3a3a3a" stroke-width="1.0"/>
<rect x="531.60" y="286.00" width="12.30" height="5.60" rx="0" fill="none" stroke="#161616" stroke-width="1.2"/>
<line x1="531.60" y1="288.60" x2="543.90" y2="288.60" stroke="#3a3a3a" stroke-width="0.9"/>
<rect x="554.40" y="271.90" width="10.20" height="2.10" rx="0" fill="none" stroke="#161616" stroke-width="1.0"/>
<line x1="555.20" y1="274.00" x2="555.20" y2="286.00" stroke="#3a3a3a" stroke-width="1.0"/>
<line x1="558.20" y1="274.00" x2="558.20" y2="286.00" stroke="#3a3a3a" stroke-width="1.0"/>
<line x1="560.80" y1="274.00" x2="560.80" y2="286.00" stroke="#3a3a3a" stroke-width="1.0"/>
<line x1="563.80" y1="274.00" x2="563.80" y2="286.00" stroke="#3a3a3a" stroke-width="1.0"/>
<rect x="553.70" y="286.00" width="11.60" height="5.60" rx="0" fill="none" stroke="#161616" stroke-width="1.2"/>
<line x1="553.70" y1="288.60" x2="565.30" y2="288.60" stroke="#3a3a3a" stroke-width="0.9"/>
<line x1="544.70" y1="271.40" x2="544.70" y2="315.10" stroke="#3a3a3a" stroke-width="1.0"/>
<line x1="553.30" y1="271.40" x2="553.30" y2="315.10" stroke="#3a3a3a" stroke-width="1.0"/>
<clipPath id="bc246"><rect x="529.7" y="291.6" width="17.59999999999991" height="23.5"/></clipPath>
<g clip-path="url(#bc246)"><path d="M532.70,290.60 L532.70,316.10 M544.30,290.60 L544.30,316.10" fill="none" stroke="#3a3a3a" stroke-width="0.8"/><path d="M534.09,287.60 Q531.80,295.10 534.09,302.60 M542.91,287.60 Q545.20,295.10 542.91,302.60 M534.09,302.60 Q531.80,310.10 534.09,317.60 M542.91,302.60 Q545.20,310.10 542.91,317.60" fill="none" stroke="#161616" stroke-width="1.2"/><polyline points="534.09,287.60 542.91,302.60 534.09,317.60" fill="none" stroke="#161616" stroke-width="1.4"/><polyline points="542.91,287.60 534.09,302.60 542.91,317.60" fill="none" stroke="#161616" stroke-width="1.4"/><line x1="538.50" y1="284.60" x2="538.50" y2="290.60" stroke="#aaa" stroke-width="0.6"/><line x1="538.50" y1="299.60" x2="538.50" y2="305.60" stroke="#aaa" stroke-width="0.6"/><line x1="538.50" y1="314.60" x2="538.50" y2="320.60" stroke="#aaa" stroke-width="0.6"/></g>
<clipPath id="bc248"><rect x="550.8" y="291.6" width="17.5" height="23.5"/></clipPath>
<g clip-path="url(#bc248)"><path d="M553.80,290.60 L553.80,316.10 M565.30,290.60 L565.30,316.10" fill="none" stroke="#3a3a3a" stroke-width="0.8"/><path d="M555.18,281.30 Q552.90,288.80 555.18,296.30 M563.92,281.30 Q566.20,288.80 563.92,296.30 M555.18,296.30 Q552.90,303.80 555.18,311.30 M563.92,296.30 Q566.20,303.80 563.92,311.30 M555.18,311.30 Q552.90,318.80 555.18,326.30 M563.92,311.30 Q566.20,318.80 563.92,326.30" fill="none" stroke="#161616" stroke-width="1.2"/><polyline points="555.18,281.30 563.92,296.30 555.18,311.30 563.92,326.30" fill="none" stroke="#161616" stroke-width="1.4"/><polyline points="563.92,281.30 555.18,296.30 563.92,311.30 555.18,326.30" fill="none" stroke="#161616" stroke-width="1.4"/><line x1="559.55" y1="278.30" x2="559.55" y2="284.30" stroke="#aaa" stroke-width="0.6"/><line x1="559.55" y1="293.30" x2="559.55" y2="299.30" stroke="#aaa" stroke-width="0.6"/><line x1="559.55" y1="308.30" x2="559.55" y2="314.30" stroke="#aaa" stroke-width="0.6"/><line x1="559.55" y1="323.30" x2="559.55" y2="329.30" stroke="#aaa" stroke-width="0.6"/></g>
<line x1="527.80" y1="320.70" x2="527.80" y2="359.40" stroke="#3a3a3a" stroke-width="1.0"/>
<line x1="569.80" y1="320.70" x2="569.80" y2="359.40" stroke="#3a3a3a" stroke-width="1.0"/>
<clipPath id="bc252"><rect x="529.4" y="320.7" width="16.399999999999977" height="58.30000000000001"/></clipPath>
<g clip-path="url(#bc252)"><path d="M532.40,319.70 L532.40,380.00 M542.80,319.70 L542.80,380.00" fill="none" stroke="#3a3a3a" stroke-width="0.8"/><path d="M533.65,314.50 Q531.50,322.10 533.65,329.70 M541.55,314.50 Q543.70,322.10 541.55,329.70 M533.65,329.70 Q531.50,337.30 533.65,344.90 M541.55,329.70 Q543.70,337.30 541.55,344.90 M533.65,344.90 Q531.50,352.50 533.65,360.10 M541.55,344.90 Q543.70,352.50 541.55,360.10 M533.65,360.10 Q531.50,367.70 533.65,375.30 M541.55,360.10 Q543.70,367.70 541.55,375.30 M533.65,375.30 Q531.50,382.90 533.65,390.50 M541.55,375.30 Q543.70,382.90 541.55,390.50" fill="none" stroke="#161616" stroke-width="1.2"/><polyline points="533.65,314.50 541.55,329.70 533.65,344.90 541.55,360.10 533.65,375.30 541.55,390.50" fill="none" stroke="#161616" stroke-width="1.4"/><polyline points="541.55,314.50 533.65,329.70 541.55,344.90 533.65,360.10 541.55,375.30 533.65,390.50" fill="none" stroke="#161616" stroke-width="1.4"/><line x1="537.60" y1="311.50" x2="537.60" y2="317.50" stroke="#aaa" stroke-width="0.6"/><line x1="537.60" y1="326.70" x2="537.60" y2="332.70" stroke="#aaa" stroke-width="0.6"/><line x1="537.60" y1="341.90" x2="537.60" y2="347.90" stroke="#aaa" stroke-width="0.6"/><line x1="537.60" y1="357.10" x2="537.60" y2="363.10" stroke="#aaa" stroke-width="0.6"/><line x1="537.60" y1="372.30" x2="537.60" y2="378.30" stroke="#aaa" stroke-width="0.6"/><line x1="537.60" y1="387.50" x2="537.60" y2="393.50" stroke="#aaa" stroke-width="0.6"/></g>
<clipPath id="bc254"><rect x="552.2" y="320.7" width="15.599999999999909" height="58.30000000000001"/></clipPath>
<g clip-path="url(#bc254)"><path d="M555.20,319.70 L555.20,380.00 M564.80,319.70 L564.80,380.00" fill="none" stroke="#3a3a3a" stroke-width="0.8"/><path d="M556.35,318.10 Q554.30,325.70 556.35,333.30 M563.65,318.10 Q565.70,325.70 563.65,333.30 M556.35,333.30 Q554.30,340.90 556.35,348.50 M563.65,333.30 Q565.70,340.90 563.65,348.50 M556.35,348.50 Q554.30,356.10 556.35,363.70 M563.65,348.50 Q565.70,356.10 563.65,363.70 M556.35,363.70 Q554.30,371.30 556.35,378.90 M563.65,363.70 Q565.70,371.30 563.65,378.90 M556.35,378.90 Q554.30,386.50 556.35,394.10 M563.65,378.90 Q565.70,386.50 563.65,394.10" fill="none" stroke="#161616" stroke-width="1.2"/><polyline points="556.35,318.10 563.65,333.30 556.35,348.50 563.65,363.70 556.35,378.90 563.65,394.10" fill="none" stroke="#161616" stroke-width="1.4"/><polyline points="563.65,318.10 556.35,333.30 563.65,348.50 556.35,363.70 563.65,378.90 556.35,394.10" fill="none" stroke="#161616" stroke-width="1.4"/><line x1="560.00" y1="315.10" x2="560.00" y2="321.10" stroke="#aaa" stroke-width="0.6"/><line x1="560.00" y1="330.30" x2="560.00" y2="336.30" stroke="#aaa" stroke-width="0.6"/><line x1="560.00" y1="345.50" x2="560.00" y2="351.50" stroke="#aaa" stroke-width="0.6"/><line x1="560.00" y1="360.70" x2="560.00" y2="366.70" stroke="#aaa" stroke-width="0.6"/><line x1="560.00" y1="375.90" x2="560.00" y2="381.90" stroke="#aaa" stroke-width="0.6"/><line x1="560.00" y1="391.10" x2="560.00" y2="397.10" stroke="#aaa" stroke-width="0.6"/></g>
<clipPath id="bc256"><rect x="529.9" y="379" width="18.399999999999977" height="32.10000000000002"/></clipPath>
<g clip-path="url(#bc256)"><path d="M532.90,378.00 L532.90,412.10 M545.30,378.00 L545.30,412.10" fill="none" stroke="#3a3a3a" stroke-width="0.8"/><path d="M534.39,375.30 Q532.00,382.90 534.39,390.50 M543.81,375.30 Q546.20,382.90 543.81,390.50 M534.39,390.50 Q532.00,398.10 534.39,405.70 M543.81,390.50 Q546.20,398.10 543.81,405.70 M534.39,405.70 Q532.00,413.30 534.39,420.90 M543.81,405.70 Q546.20,413.30 543.81,420.90" fill="none" stroke="#161616" stroke-width="1.2"/><polyline points="534.39,375.30 543.81,390.50 534.39,405.70 543.81,420.90" fill="none" stroke="#161616" stroke-width="1.4"/><polyline points="543.81,375.30 534.39,390.50 543.81,405.70 534.39,420.90" fill="none" stroke="#161616" stroke-width="1.4"/><line x1="539.10" y1="372.30" x2="539.10" y2="378.30" stroke="#aaa" stroke-width="0.6"/><line x1="539.10" y1="387.50" x2="539.10" y2="393.50" stroke="#aaa" stroke-width="0.6"/><line x1="539.10" y1="402.70" x2="539.10" y2="408.70" stroke="#aaa" stroke-width="0.6"/><line x1="539.10" y1="417.90" x2="539.10" y2="423.90" stroke="#aaa" stroke-width="0.6"/></g>
<clipPath id="bc258"><rect x="549.1" y="379" width="18.5" height="32.10000000000002"/></clipPath>
<g clip-path="url(#bc258)"><path d="M552.10,378.00 L552.10,412.10 M564.60,378.00 L564.60,412.10" fill="none" stroke="#3a3a3a" stroke-width="0.8"/><path d="M553.60,378.90 Q551.20,386.50 553.60,394.10 M563.10,378.90 Q565.50,386.50 563.10,394.10 M553.60,394.10 Q551.20,401.70 553.60,409.30 M563.10,394.10 Q565.50,401.70 563.10,409.30 M553.60,409.30 Q551.20,416.90 553.60,424.50 M563.10,409.30 Q565.50,416.90 563.10,424.50" fill="none" stroke="#161616" stroke-width="1.2"/><polyline points="553.60,378.90 563.10,394.10 553.60,409.30 563.10,424.50" fill="none" stroke="#161616" stroke-width="1.4"/><polyline points="563.10,378.90 553.60,394.10 563.10,409.30 553.60,424.50" fill="none" stroke="#161616" stroke-width="1.4"/><line x1="558.35" y1="375.90" x2="558.35" y2="381.90" stroke="#aaa" stroke-width="0.6"/><line x1="558.35" y1="391.10" x2="558.35" y2="397.10" stroke="#aaa" stroke-width="0.6"/><line x1="558.35" y1="406.30" x2="558.35" y2="412.30" stroke="#aaa" stroke-width="0.6"/><line x1="558.35" y1="421.50" x2="558.35" y2="427.50" stroke="#aaa" stroke-width="0.6"/></g>
<line x1="542.80" y1="324.20" x2="555.20" y2="324.20" stroke="#3a3a3a" stroke-width="1.1"/>
<line x1="542.80" y1="327.30" x2="555.20" y2="327.30" stroke="#3a3a3a" stroke-width="1.1"/>
<rect x="542.50" y="361.20" width="11.80" height="17.70" rx="0" fill="#fff" stroke="#161616" stroke-width="1.2"/>
<line x1="548.40" y1="361.20" x2="548.40" y2="378.90" stroke="#3a3a3a" stroke-width="1.0"/>
<rect x="518.3" y="316" width="61" height="4.7" rx="1.8" fill="#bdbdbd" stroke="#161616" stroke-width="1.2"/>
<line x1="478.00" y1="357.00" x2="569.80" y2="357.00" stroke="#3a3a3a" stroke-width="1.1"/>
<path d="M528.10,357.00 L534.10,355.50 L534.10,358.50 Z" fill="#161616"/>
<path d="M569.80,357.00 L563.80,358.50 L563.80,355.50 Z" fill="#161616"/>
<text x="477.46" y="355.50" font-size="9.00" textLength="29.39" lengthAdjust="spacingAndGlyphs" stroke="#161616" stroke-width="0.3">Ø33.5</text>
<path d="M510.6,420.2 C507.6,419.5 507.40000000000003,416 510.1,414.3 Q525.6,410 548.6,410 Q571.6,410 587.1,414.3 C589.8,416 589.6,419.5 586.6,420.2 Z" fill="none" stroke="#161616" stroke-width="1.6" />
<line x1="508.60" y1="415.30" x2="588.90" y2="415.30" stroke="#161616" stroke-width="1.1"/>
<path d="M517.7,420.2 Q524.2,422.5 524.5,432.1 L524.9,440.7 L526.1,442 L526.1,455 L524.9,456.4 L524.9,460.7" fill="none" stroke="#161616" stroke-width="1.2" />
<path d="M579.7,420.2 Q573.2,422.5 572.7,432.1 L572.7,440.7 L571.5,442 L571.5,455 L572.7,456.4 L572.7,460.7" fill="none" stroke="#161616" stroke-width="1.2" />
<line x1="524.50" y1="432.10" x2="572.70" y2="432.10" stroke="#161616" stroke-width="1.2"/>
<rect x="539.50" y="440.70" width="19.00" height="15.00" rx="2" fill="none" stroke="#161616" stroke-width="1.4"/>
<rect x="510.60" y="460.70" width="75.70" height="7.60" rx="0" fill="none" stroke="#161616" stroke-width="1.3"/>
<path d="M512.6,469.3 L586.2,469.3 Q588.5,469.3 588.5,473.6 Q588.5,477.9 586.2,477.9 L512.6,477.9 Q509.90000000000003,477.9 509.90000000000003,473.6 Q509.90000000000003,469.3 512.6,469.3 Z" fill="none" stroke="#161616" stroke-width="1.4" />
<line x1="510.10" y1="471.50" x2="588.30" y2="471.50" stroke="#161616" stroke-width="1.0"/>
<line x1="510.10" y1="475.70" x2="588.30" y2="475.70" stroke="#161616" stroke-width="1.0"/>
<line x1="548.90" y1="440.70" x2="548.90" y2="455.70" stroke="#3a3a3a" stroke-width="1.0"/>
<line x1="521.80" y1="477.90" x2="521.80" y2="518.60" stroke="#3a3a3a" stroke-width="1.3"/>
<line x1="575.70" y1="477.90" x2="575.70" y2="518.60" stroke="#3a3a3a" stroke-width="1.3"/>
<polygon points="520.80,518.80 521.80,520.22 520.80,521.64 521.80,523.06 520.80,524.48 521.80,525.90 520.80,527.32 521.80,528.74 520.80,530.16 521.80,531.58 520.80,533.00 577.00,533.00 576.00,531.58 577.00,530.16 576.00,528.74 577.00,527.32 576.00,525.90 577.00,524.48 576.00,523.06 577.00,521.64 576.00,520.22 577.00,518.80" fill="#2a2a2a"/>
<line x1="521.40" y1="521.94" x2="576.40" y2="521.94" stroke="#9a9a9a" stroke-width="0.8"/>
<line x1="521.40" y1="524.78" x2="576.40" y2="524.78" stroke="#9a9a9a" stroke-width="0.8"/>
<line x1="521.40" y1="527.62" x2="576.40" y2="527.62" stroke="#9a9a9a" stroke-width="0.8"/>
<line x1="521.40" y1="530.46" x2="576.40" y2="530.46" stroke="#9a9a9a" stroke-width="0.8"/>
<line x1="589.60" y1="418.20" x2="628.60" y2="418.20" stroke="#3a3a3a" stroke-width="1.1"/>
<line x1="586.40" y1="461.40" x2="628.60" y2="461.40" stroke="#3a3a3a" stroke-width="1.1"/>
<line x1="625.40" y1="412.10" x2="625.40" y2="467.90" stroke="#3a3a3a" stroke-width="1.0"/>
<path d="M625.40,418.20 L623.90,413.20 L626.90,413.20 Z" fill="#161616"/>
<path d="M625.40,461.40 L626.90,466.40 L623.90,466.40 Z" fill="#161616"/>
<text transform="translate(623.70 455.15) rotate(-90)" x="0" y="0" font-size="9.14" textLength="29.91" lengthAdjust="spacingAndGlyphs" stroke="#161616" stroke-width="0.3">35-50</text>
<line x1="522.10" y1="531.40" x2="522.10" y2="555.00" stroke="#3a3a3a" stroke-width="1.0"/>
<line x1="575.50" y1="531.40" x2="575.50" y2="555.00" stroke="#3a3a3a" stroke-width="1.0"/>
<line x1="468.60" y1="552.40" x2="582.90" y2="552.40" stroke="#3a3a3a" stroke-width="1.1"/>
<path d="M522.10,552.40 L516.10,553.90 L516.10,550.90 Z" fill="#161616"/>
<path d="M575.50,552.40 L581.50,550.90 L581.50,553.90 Z" fill="#161616"/>
<text x="469.08" y="550.60" font-size="8.71" textLength="37.06" lengthAdjust="spacingAndGlyphs" stroke="#161616" stroke-width="0.3">G1  1/4"</text>
<clipPath id="bc299"><rect x="529.0" y="533.6" width="19.700000000000045" height="11.799999999999955"/></clipPath>
<g clip-path="url(#bc299)"><path d="M532.00,532.60 L532.00,546.40 M545.70,532.60 L545.70,546.40" fill="none" stroke="#3a3a3a" stroke-width="0.8"/><path d="M533.60,532.00 Q531.10,539.50 533.60,547.00 M544.10,532.00 Q546.60,539.50 544.10,547.00" fill="none" stroke="#161616" stroke-width="1.2"/><polyline points="533.60,532.00 544.10,547.00" fill="none" stroke="#161616" stroke-width="1.4"/><polyline points="544.10,532.00 533.60,547.00" fill="none" stroke="#161616" stroke-width="1.4"/><line x1="538.85" y1="529.00" x2="538.85" y2="535.00" stroke="#aaa" stroke-width="0.6"/><line x1="538.85" y1="544.00" x2="538.85" y2="550.00" stroke="#aaa" stroke-width="0.6"/></g>
<clipPath id="bc301"><rect x="549.0" y="533.6" width="19.0" height="11.799999999999955"/></clipPath>
<g clip-path="url(#bc301)"><path d="M552.00,532.60 L552.00,546.40 M565.00,532.60 L565.00,546.40" fill="none" stroke="#3a3a3a" stroke-width="0.8"/><path d="M553.56,532.00 Q551.10,539.50 553.56,547.00 M563.44,532.00 Q565.90,539.50 563.44,547.00" fill="none" stroke="#161616" stroke-width="1.2"/><polyline points="553.56,532.00 563.44,547.00" fill="none" stroke="#161616" stroke-width="1.4"/><polyline points="563.44,532.00 553.56,547.00" fill="none" stroke="#161616" stroke-width="1.4"/><line x1="558.50" y1="529.00" x2="558.50" y2="535.00" stroke="#aaa" stroke-width="0.6"/><line x1="558.50" y1="544.00" x2="558.50" y2="550.00" stroke="#aaa" stroke-width="0.6"/></g>
<rect x="545.70" y="533.60" width="6.30" height="11.80" rx="0" fill="none" stroke="#161616" stroke-width="1.1"/>
<clipPath id="bc304"><rect x="529.0" y="548.6" width="19.700000000000045" height="18.100000000000023"/></clipPath>
<g clip-path="url(#bc304)"><path d="M532.00,547.60 L532.00,567.70 M545.70,547.60 L545.70,567.70" fill="none" stroke="#3a3a3a" stroke-width="0.8"/><path d="M533.60,541.60 Q531.10,549.10 533.60,556.60 M544.10,541.60 Q546.60,549.10 544.10,556.60 M533.60,556.60 Q531.10,564.10 533.60,571.60 M544.10,556.60 Q546.60,564.10 544.10,571.60" fill="none" stroke="#161616" stroke-width="1.2"/><polyline points="533.60,541.60 544.10,556.60 533.60,571.60" fill="none" stroke="#161616" stroke-width="1.4"/><polyline points="544.10,541.60 533.60,556.60 544.10,571.60" fill="none" stroke="#161616" stroke-width="1.4"/><line x1="538.85" y1="538.60" x2="538.85" y2="544.60" stroke="#aaa" stroke-width="0.6"/><line x1="538.85" y1="553.60" x2="538.85" y2="559.60" stroke="#aaa" stroke-width="0.6"/><line x1="538.85" y1="568.60" x2="538.85" y2="574.60" stroke="#aaa" stroke-width="0.6"/></g>
<clipPath id="bc306"><rect x="549.0" y="548.6" width="19.0" height="41.69999999999993"/></clipPath>
<g clip-path="url(#bc306)"><path d="M552.00,547.60 L552.00,591.30 M565.00,547.60 L565.00,591.30" fill="none" stroke="#3a3a3a" stroke-width="0.8"/><path d="M553.56,541.60 Q551.10,549.10 553.56,556.60 M563.44,541.60 Q565.90,549.10 563.44,556.60 M553.56,556.60 Q551.10,564.10 553.56,571.60 M563.44,556.60 Q565.90,564.10 563.44,571.60 M553.56,571.60 Q551.10,579.10 553.56,586.60 M563.44,571.60 Q565.90,579.10 563.44,586.60 M553.56,586.60 Q551.10,594.10 553.56,601.60 M563.44,586.60 Q565.90,594.10 563.44,601.60" fill="none" stroke="#161616" stroke-width="1.2"/><polyline points="553.56,541.60 563.44,556.60 553.56,571.60 563.44,586.60 553.56,601.60" fill="none" stroke="#161616" stroke-width="1.4"/><polyline points="563.44,541.60 553.56,556.60 563.44,571.60 553.56,586.60 563.44,601.60" fill="none" stroke="#161616" stroke-width="1.4"/><line x1="558.50" y1="538.60" x2="558.50" y2="544.60" stroke="#aaa" stroke-width="0.6"/><line x1="558.50" y1="553.60" x2="558.50" y2="559.60" stroke="#aaa" stroke-width="0.6"/><line x1="558.50" y1="568.60" x2="558.50" y2="574.60" stroke="#aaa" stroke-width="0.6"/><line x1="558.50" y1="583.60" x2="558.50" y2="589.60" stroke="#aaa" stroke-width="0.6"/><line x1="558.50" y1="598.60" x2="558.50" y2="604.60" stroke="#aaa" stroke-width="0.6"/></g>
<rect x="532.00" y="566.70" width="13.70" height="4.70" rx="0" fill="none" stroke="#161616" stroke-width="1.2"/>
<line x1="532.00" y1="569.00" x2="545.70" y2="569.00" stroke="#3a3a3a" stroke-width="0.9"/>
<line x1="534.60" y1="571.40" x2="534.60" y2="585.50" stroke="#3a3a3a" stroke-width="1.0"/>
<line x1="543.10" y1="571.40" x2="543.10" y2="585.50" stroke="#3a3a3a" stroke-width="1.0"/>
<line x1="532.00" y1="571.40" x2="532.00" y2="585.50" stroke="#3a3a3a" stroke-width="1.1"/>
<line x1="545.70" y1="571.40" x2="545.70" y2="585.50" stroke="#3a3a3a" stroke-width="1.1"/>
<rect x="532.00" y="585.50" width="13.70" height="3.20" rx="0" fill="none" stroke="#161616" stroke-width="1.2"/>
<rect x="527.30" y="588.70" width="22.60" height="14.10" rx="1.5" fill="none" stroke="#161616" stroke-width="1.3"/>
<line x1="538.60" y1="588.70" x2="538.60" y2="602.80" stroke="#3a3a3a" stroke-width="1.1"/>
<rect x="552.00" y="590.30" width="13.00" height="4.70" rx="0" fill="none" stroke="#161616" stroke-width="1.2"/>
<line x1="552.00" y1="592.60" x2="565.00" y2="592.60" stroke="#3a3a3a" stroke-width="0.9"/>
<line x1="554.60" y1="595.00" x2="554.60" y2="609.80" stroke="#3a3a3a" stroke-width="1.0"/>
<line x1="562.40" y1="595.00" x2="562.40" y2="609.80" stroke="#3a3a3a" stroke-width="1.0"/>
<line x1="552.00" y1="595.00" x2="552.00" y2="609.80" stroke="#3a3a3a" stroke-width="1.1"/>
<line x1="565.00" y1="595.00" x2="565.00" y2="609.80" stroke="#3a3a3a" stroke-width="1.1"/>
<rect x="552.00" y="609.80" width="13.00" height="3.20" rx="0" fill="none" stroke="#161616" stroke-width="1.2"/>
<rect x="547.20" y="613.00" width="22.80" height="15.00" rx="1.5" fill="none" stroke="#161616" stroke-width="1.3"/>
<line x1="558.60" y1="613.00" x2="558.60" y2="628.00" stroke="#3a3a3a" stroke-width="1.1"/>
</svg></body></html>
